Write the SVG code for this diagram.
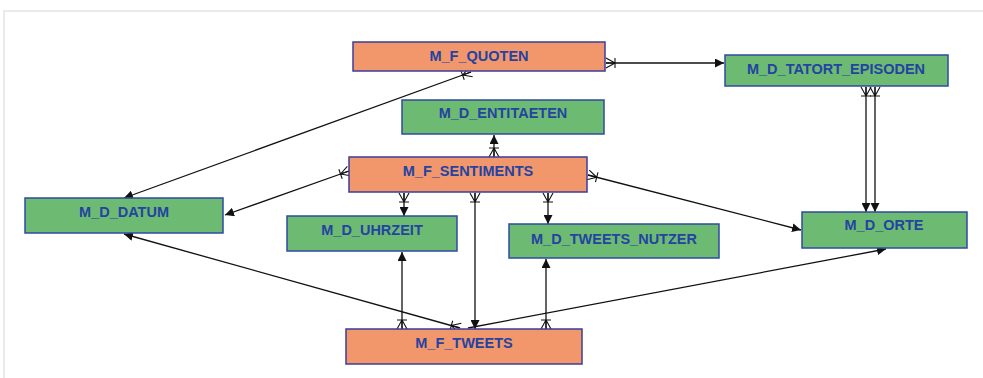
<svg xmlns="http://www.w3.org/2000/svg" width="983" height="378" viewBox="0 0 983 378">
<style>
.fact{fill:#F2976C;stroke:#3B3E9C;stroke-width:1.5}
.dim{fill:#6DBB72;stroke:#2E4BA0;stroke-width:1.5}
.lbl{font-family:"Liberation Sans",Arial,sans-serif;font-size:14.5px;font-weight:bold;fill:#2443A2;text-anchor:middle}
.c{fill:none;stroke:#111;stroke-width:1.3;marker-end:url(#arr)}
.m{marker-start:url(#crow)}
</style>
<defs>
<marker id="arr" viewBox="0 0 10 10" refX="10" refY="5" markerWidth="9" markerHeight="9" markerUnits="userSpaceOnUse" orient="auto">
<path d="M0,0 L10,5 L0,10 Z" fill="#111"/>
</marker>
<marker id="crow" viewBox="-1 -7 14 14" refX="0" refY="0" markerWidth="14" markerHeight="14" markerUnits="userSpaceOnUse" orient="auto">
<path d="M0,-5 L9,0 M0,0 L9,0 M0,5 L9,0 M9,-5 L9,5" fill="none" stroke="#111" stroke-width="1.1"/>
</marker>
</defs>
<rect x="0" y="0" width="983" height="378" fill="#fff"/>
<path d="M4,378 L4,11 L983,11" fill="none" stroke="#e4e4e4" stroke-width="1.5"/>
<g id="connectors">
<line class="c m" x1="606" y1="63" x2="724" y2="63"/>
<line class="c m" x1="471" y1="72" x2="124" y2="198"/>
<line class="c m" x1="494" y1="157" x2="494" y2="135"/>
<line class="c m" x1="349" y1="171" x2="225" y2="215"/>
<line class="c m" x1="404" y1="193" x2="404" y2="216"/>
<line class="c m" x1="475" y1="193" x2="475" y2="329"/>
<line class="c m" x1="548" y1="193" x2="548" y2="224"/>
<line class="c m" x1="588" y1="175" x2="801" y2="230"/>
<line class="c m" x1="866" y1="87" x2="866" y2="212"/>
<line class="c m" x1="875" y1="87" x2="875" y2="212"/>
<line class="c m" x1="402" y1="329" x2="402" y2="252"/>
<line class="c m" x1="546" y1="329" x2="546" y2="259"/>
<line class="c m" x1="460" y1="328" x2="124" y2="234"/>
<line class="c" x1="468" y1="328" x2="886" y2="249"/>
</g>
<g id="M_F_QUOTEN"><rect class="fact" x="353" y="42" width="252" height="29"/><text class="lbl" x="479" y="61">M_F_QUOTEN</text></g>
<g id="M_D_TATORT_EPISODEN"><rect class="dim" x="725" y="55" width="223" height="31"/><text class="lbl" x="836" y="74">M_D_TATORT_EPISODEN</text></g>
<g id="M_D_ENTITAETEN"><rect class="dim" x="402" y="100" width="202" height="34"/><text class="lbl" x="503" y="118">M_D_ENTITAETEN</text></g>
<g id="M_F_SENTIMENTS"><rect class="fact" x="349" y="157" width="238" height="35"/><text class="lbl" x="468" y="176">M_F_SENTIMENTS</text></g>
<g id="M_D_DATUM"><rect class="dim" x="25" y="198" width="198" height="35"/><text class="lbl" x="124" y="217">M_D_DATUM</text></g>
<g id="M_D_UHRZEIT"><rect class="dim" x="287" y="216" width="170" height="35"/><text class="lbl" x="372" y="235">M_D_UHRZEIT</text></g>
<g id="M_D_TWEETS_NUTZER"><rect class="dim" x="509" y="224" width="210" height="34"/><text class="lbl" x="614" y="244">M_D_TWEETS_NUTZER</text></g>
<g id="M_D_ORTE"><rect class="dim" x="802" y="212" width="165" height="36"/><text class="lbl" x="884" y="230">M_D_ORTE</text></g>
<g id="M_F_TWEETS"><rect class="fact" x="346" y="329" width="236" height="35"/><text class="lbl" x="464" y="348">M_F_TWEETS</text></g>
</svg>
